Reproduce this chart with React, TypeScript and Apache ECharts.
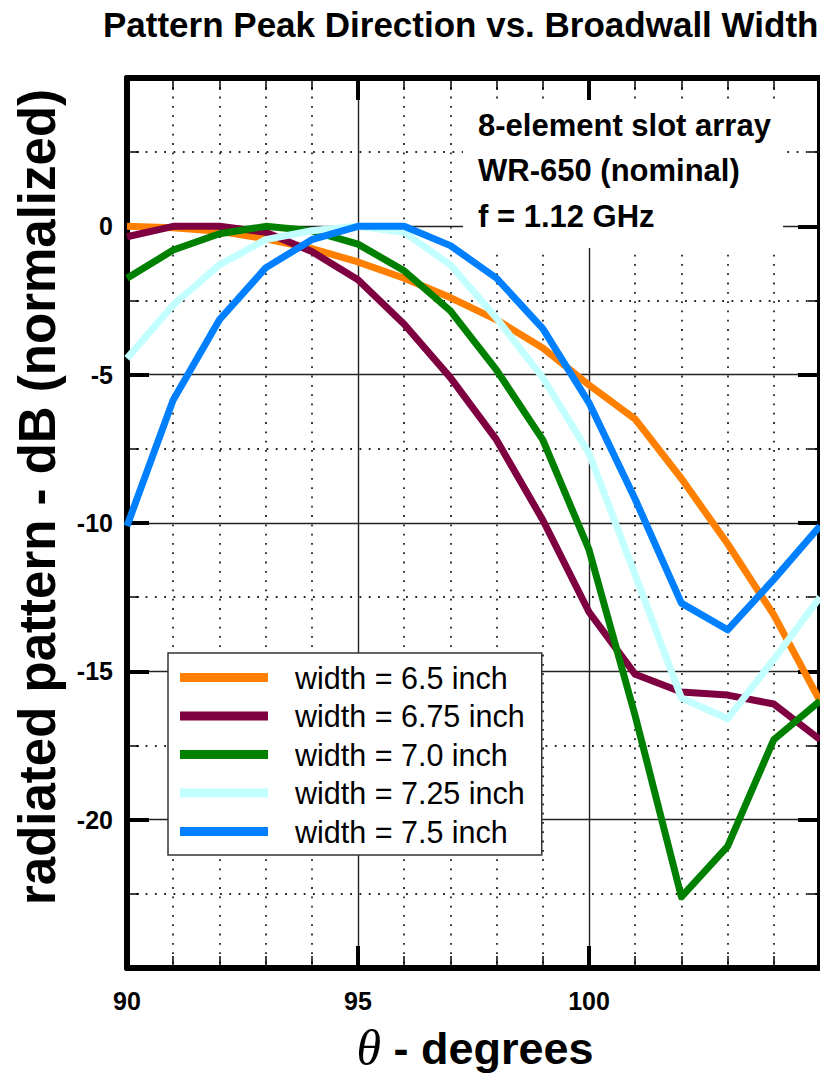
import React, { useEffect, useRef } from "react";
import * as echarts from "echarts";

const THETA = [90, 91, 92, 93, 94, 95, 96, 97, 98, 99, 100, 101, 102, 103, 104, 105];
const W_650 = [0, -0.05, -0.17, -0.42, -0.75, -1.2, -1.75, -2.4, -3.15, -4.1, -5.35, -6.5, -8.5, -10.7, -13.1, -16.0];
const W_675 = [-0.35, 0, 0, -0.2, -0.85, -1.8, -3.3, -5.1, -7.2, -9.9, -13.0, -15.1, -15.7, -15.8, -16.1, -17.3];
const W_700 = [-1.75, -0.8, -0.25, 0, -0.15, -0.6, -1.5, -2.85, -4.85, -7.2, -10.9, -16.5, -22.6, -20.9, -17.3, -16.0];
const W_725 = [-4.45, -2.65, -1.3, -0.45, -0.15, 0, -0.2, -1.3, -3.1, -5.1, -7.65, -11.75, -15.9, -16.6, -14.6, -12.5];
const W_750 = [-10.1, -5.85, -3.15, -1.4, -0.45, 0, 0, -0.65, -1.75, -3.45, -5.95, -9.2, -12.7, -13.6, -11.9, -10.1];

const SERIES_NAMES = [
  "width = 6.5 inch",
  "width = 6.75 inch",
  "width = 7.0 inch",
  "width = 7.25 inch",
  "width = 7.5 inch",
];
const SERIES_VALUES = [W_650, W_675, W_700, W_725, W_750];
const SERIES_COLORS = ["#FF8000", "#7F0040", "#008000", "#C4FFFF", "#0080FF"];

const TITLE = "Pattern Peak Direction vs. Broadwall Width";
const NOTE_LINES = ["8-element slot array", "WR-650 (nominal)", "f = 1.12 GHz"];
const Y_NAME = "radiated pattern - dB (normalized)";
const X_NAME_SYMBOL = "θ";
const X_NAME_TEXT = " - degrees";

const FONT = "'Liberation Sans', Arial, Helvetica, sans-serif";

export default function App() {
  const ref = useRef<HTMLDivElement>(null);

  useEffect(() => {
    const chart = echarts.init(ref.current!, null, { renderer: "svg" });

    const axisLine = { show: true, onZero: false, lineStyle: { color: "#000", width: 6 } };
    const axisTick = { show: true, inside: true, length: 22, lineStyle: { color: "#000", width: 4 } };
    const minorTickX = { show: true, splitNumber: 5, length: 12, lineStyle: { color: "#000", width: 1.5 } };
    const minorTickY = { show: true, splitNumber: 2, length: 12, lineStyle: { color: "#000", width: 1.5 } };
    const splitLine = { show: true, lineStyle: { color: "#222", width: 1.4 } };
    const minorSplitLine = { show: true, lineStyle: { color: "#222", width: 1.8, type: [1.8, 7.5] } };
    const labelStyle = { color: "#000", fontSize: 25, fontWeight: "bold", fontFamily: FONT };

    const option: any = {
      animation: false,
      backgroundColor: "#fff",
      grid: { left: 127, right: -4, top: 78, bottom: 113, containLabel: false },
      xAxis: [
        {
          type: "value",
          position: "bottom",
          min: 90,
          max: 105,
          interval: 5,
          axisLine,
          axisTick,
          minorTick: minorTickX,
          splitLine,
          minorSplitLine,
          axisLabel: { ...labelStyle, margin: 20, showMaxLabel: false, showMinLabel: true },
        },
        {
          type: "value",
          position: "top",
          min: 90,
          max: 105,
          interval: 5,
          axisLine,
          axisTick,
          minorTick: minorTickX,
          splitLine: { show: false },
          minorSplitLine: { show: false },
          axisLabel: { show: false },
        },
      ],
      yAxis: [
        {
          type: "value",
          position: "left",
          min: -25,
          max: 5,
          interval: 5,
          axisLine,
          axisTick,
          minorTick: minorTickY,
          splitLine,
          minorSplitLine,
          axisLabel: { ...labelStyle, margin: 14, showMaxLabel: false, showMinLabel: false },
        },
        {
          type: "value",
          position: "right",
          min: -25,
          max: 5,
          interval: 5,
          axisLine,
          axisTick,
          minorTick: minorTickY,
          splitLine: { show: false },
          minorSplitLine: { show: false },
          axisLabel: { show: false },
        },
      ],
      legend: {
        orient: "vertical",
        left: 168,
        top: 653,
        itemWidth: 88,
        itemHeight: 9,
        itemGap: 7.5,
        icon: "rect",
        padding: [9, 17, 8, 12],
        backgroundColor: "#fff",
        borderColor: "#333",
        borderWidth: 1.5,
        textStyle: {
          fontSize: 30.5,
          fontFamily: FONT,
          color: "#000",
          padding: [0, 0, 0, 22],
          lineHeight: 30,
          height: 30,
        },
        data: SERIES_NAMES,
      },
      series: SERIES_NAMES.map((name, i) => ({
        type: "line",
        name,
        xAxisIndex: 0,
        yAxisIndex: 0,
        data: THETA.map((t, j) => [t, SERIES_VALUES[i][j]]),
        symbol: "none",
        showSymbol: false,
        lineStyle: { width: 7, color: SERIES_COLORS[i], join: "round" },
        itemStyle: { color: SERIES_COLORS[i] },
        z: 2,
      })),
      graphic: [
        {
          type: "rect",
          z: 1,
          shape: { x: 463, y: 100, width: 320, height: 148 },
          style: { fill: "#fff" },
          silent: true,
        },
        ...NOTE_LINES.map((line, i) => ({
          type: "text",
          z: 3,
          x: 478,
          y: 125 + i * 45.5,
          style: {
            text: line,
            fontSize: 31,
            fontWeight: "bold",
            fontFamily: FONT,
            fill: "#000",
            align: "left",
            verticalAlign: "middle",
          },
        })),
        {
          type: "text",
          z: 3,
          x: 103,
          y: 24,
          style: {
            text: TITLE,
            fontSize: 35,
            fontWeight: "bold",
            fontFamily: FONT,
            fill: "#000",
            align: "left",
            verticalAlign: "middle",
          },
        },
        {
          type: "text",
          z: 3,
          x: 37,
          y: 497,
          rotation: Math.PI / 2,
          style: {
            text: Y_NAME,
            fontSize: 51,
            fontWeight: "bold",
            fontFamily: FONT,
            fill: "#000",
            align: "center",
            verticalAlign: "middle",
          },
        },
        {
          type: "text",
          z: 3,
          x: 475,
          y: 1048,
          style: {
            text: `{t|${X_NAME_SYMBOL}}{d|${X_NAME_TEXT}}`,
            align: "center",
            verticalAlign: "middle",
            fill: "#000",
            rich: {
              t: { fontFamily: "'Liberation Serif', 'Times New Roman', serif", fontStyle: "italic", fontSize: 50, fill: "#000" },
              d: { fontFamily: FONT, fontWeight: "bold", fontSize: 45, fill: "#000" },
            },
          },
        },
      ],
    };

    chart.setOption(option);
    return () => chart.dispose();
  }, []);

  return (
    <div
      ref={ref}
      style={{ position: "fixed", left: 0, top: 0, width: 820, height: 1081, background: "#fff" }}
    />
  );
}
